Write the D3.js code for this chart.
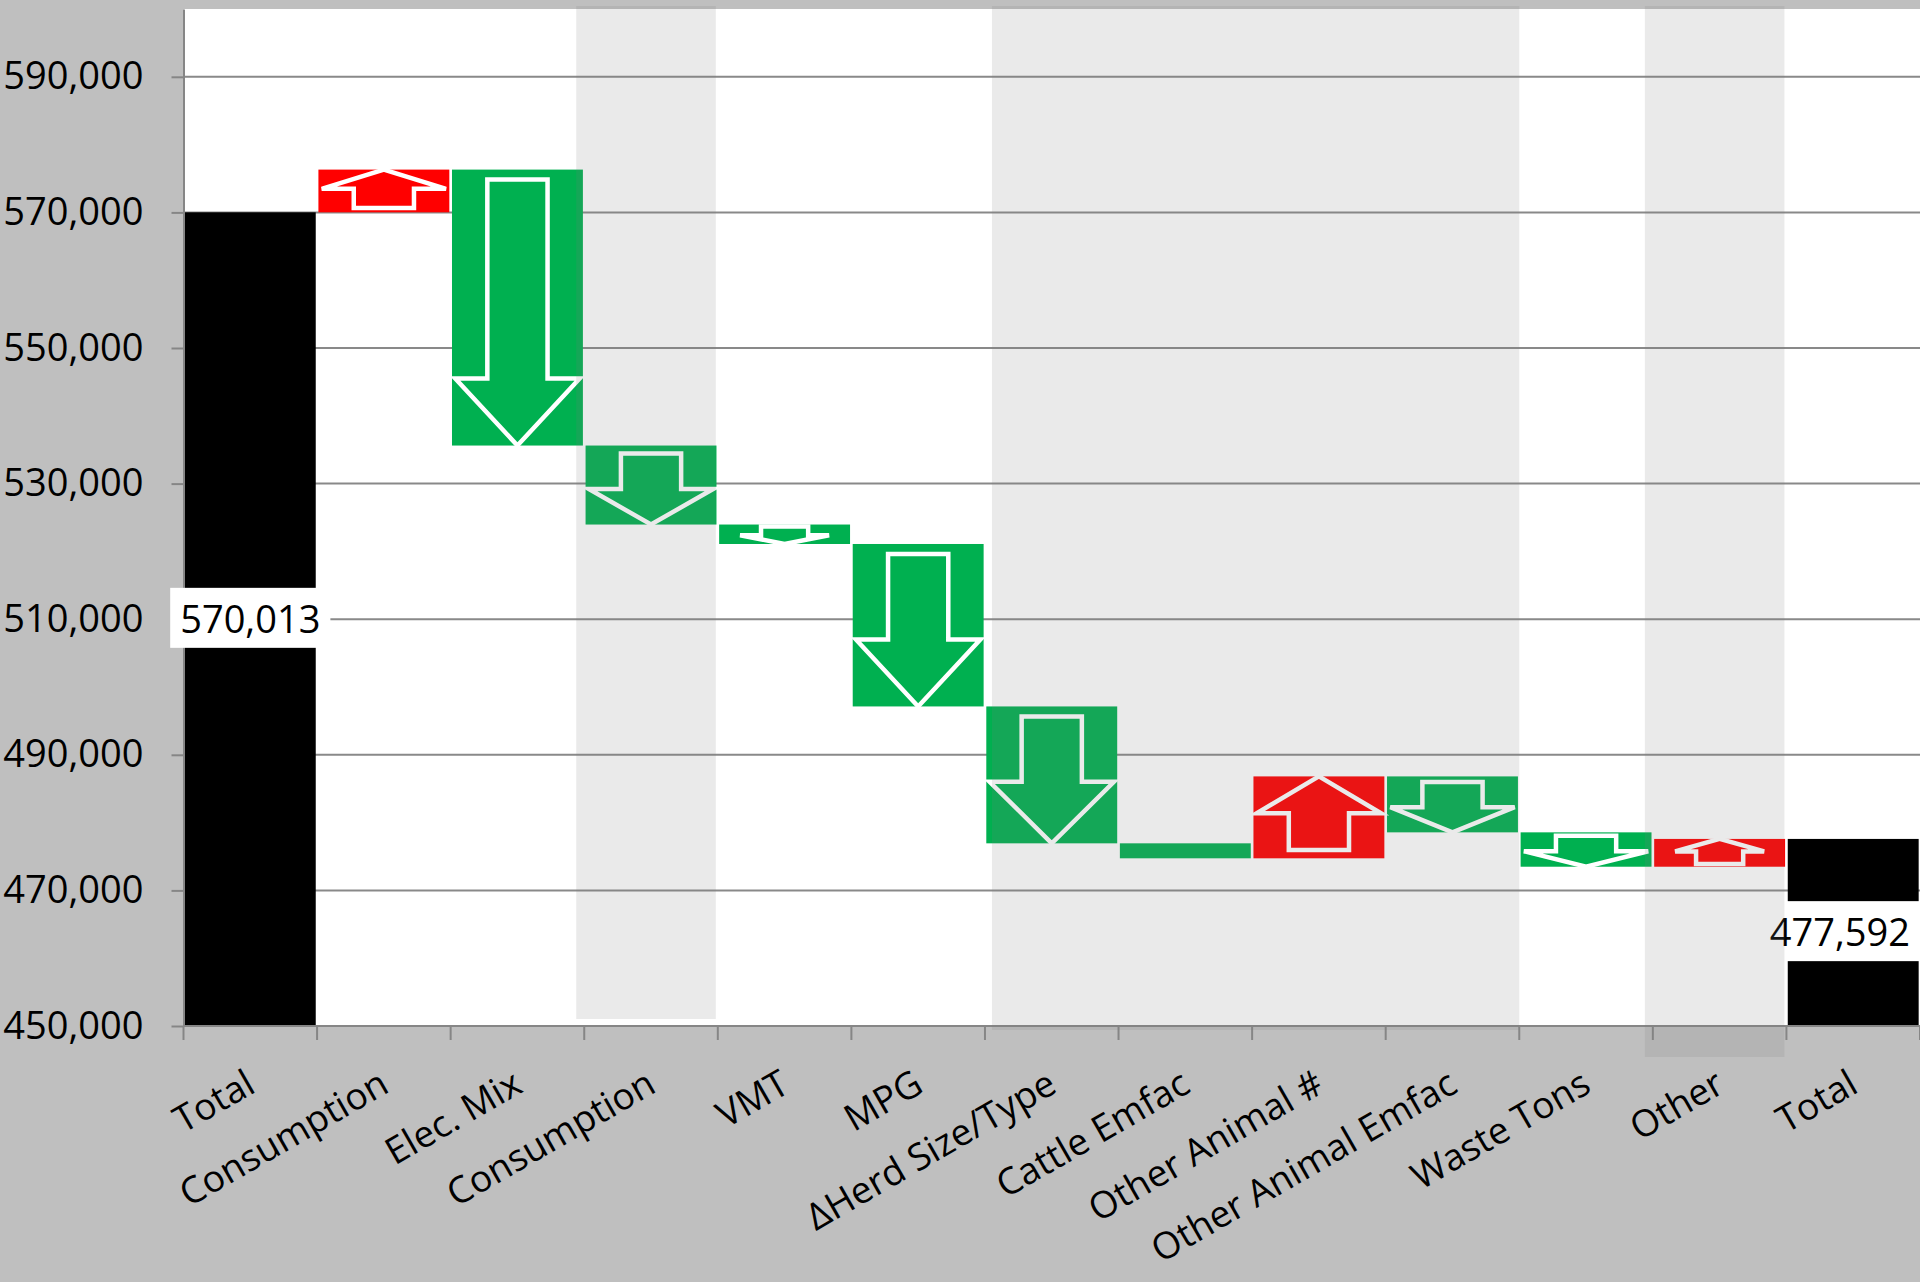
<!DOCTYPE html>
<html>
<head>
<meta charset="utf-8">
<script src="https://cdn.jsdelivr.net/npm/d3@7"></script>
<style>
  html, body { margin: 0; padding: 0; background: #bfbfbf; }
  svg { display: block; }
  text { font-family: "Open Sans", "Noto Sans", sans-serif; }
</style>
</head>
<body>
<svg id="chart"></svg>
<script>
// Data
const categories = ["Total", "Consumption", "Elec. Mix", "Consumption", "VMT", "MPG",
  "\u0394Herd Size/Type", "Cattle Emfac", "Other Animal #", "Other Animal Emfac",
  "Waste Tons", "Other", "Total"];
const startTotal = 570013;
const changes = [6300, -40700, -11650, -2870, -23960, -20190, -2210, 12080, -8250, -5070, 4099];
const endTotal = 477592;
const yTicks = [450000, 470000, 490000, 510000, 530000, 550000, 570000, 590000];
// shaded sector groups (first and last category index)
const shadeFrom = [3, 6, 11];
const shadeTo = [3, 9, 11];

// Layout / style
const width = 1920, height = 1282;
const plotLeft = 183.5, plotTop = 9, plotBottom = 1026;
const shadeNudge = [[-8, -2, -7], [7, 0, 4], [-8, -2, 31]]; // left, right, bottom offsets
const colors = { up: "#ff0000", down: "#00b050", total: "#000000" };

const svg = d3.select("#chart").attr("width", width).attr("height", height);

// Arrange waterfall rows
let rows = [];
let running = startTotal;
rows.push({ i: 0, a: 450000, b: startTotal, type: "total", value: startTotal });
changes.forEach((c, k) => {
  rows.push({ i: k + 1, a: running, b: running + c, type: c > 0 ? "up" : "down" });
  running += c;
});
rows.push({ i: categories.length - 1, a: 450000, b: endTotal, type: "total", value: endTotal });

let x = d3.scaleBand()
  .domain(d3.range(categories.length))
  .range([plotLeft, width])
  .paddingInner(0.02)
  .paddingOuter(0.01);
let y = d3.scaleLinear().domain([450000, 600000]).range([plotBottom, plotTop]);
const edge = (i) => plotLeft + i * x.step();

// Plot background
svg.append("rect")
  .attr("x", plotLeft).attr("y", plotTop)
  .attr("width", width - plotLeft).attr("height", plotBottom - plotTop)
  .attr("fill", "#ffffff");

// Gridlines
svg.append("g")
  .selectAll("line")
  .data(yTicks)
  .enter()
  .append("line")
  .attr("x1", plotLeft).attr("x2", width)
  .attr("y1", (d) => y(d)).attr("y2", (d) => y(d))
  .attr("stroke", "#898989")
  .attr("stroke-width", 2);

// Bars
svg.append("g")
  .selectAll("rect")
  .data(rows)
  .enter()
  .append("rect")
  .attr("x", (d) => x(d.i))
  .attr("width", x.bandwidth())
  .attr("y", (d) => y(Math.max(d.a, d.b)))
  .attr("height", (d) => Math.abs(y(d.a) - y(d.b)))
  .attr("fill", (d) => colors[d.type]);

// White outline arrows inside the change bars (none on very thin bars)
const barH = (d) => Math.abs(y(d.a) - y(d.b));
function arrowPath(d) {
  const x0 = x(d.i), w = x.bandwidth();
  const yTop = y(Math.max(d.a, d.b)), yBot = y(Math.min(d.a, d.b));
  const h = yBot - yTop;
  const cx = x0 + w / 2;
  const head = Math.min(0.45 * h, 67);
  const inset = Math.min(0.1 * h, 10);
  const hw = (h < 30 ? 0.34 : 0.475) * w;
  const sw = (h < 30 ? 0.18 : 0.23) * w;
  let tip, tail, base;
  if (d.type === "up") { tip = yTop; tail = yBot - inset; base = tip + head; }
  else { tip = yBot; tail = yTop + inset; base = tip - head; }
  return `M${cx - sw},${tail}L${cx + sw},${tail}L${cx + sw},${base}L${cx + hw},${base}` +
    `L${cx},${tip}L${cx - hw},${base}L${cx - sw},${base}Z`;
}
svg.append("g")
  .selectAll("path")
  .data(rows.filter((d) => d.type !== "total" && barH(d) > 17))
  .enter()
  .append("path")
  .attr("d", arrowPath)
  .attr("fill", "none")
  .attr("stroke", "#ffffff")
  .attr("stroke-width", 4.5)
  .attr("stroke-linejoin", "miter");

// Y axis
let yAxis = svg.append("g")
  .attr("transform", "translate(" + plotLeft + ",0)")
  .call(d3.axisLeft(y).tickValues(yTicks).tickSize(12).tickSizeOuter(0).tickPadding(28).tickFormat(d3.format(",")));
yAxis.select(".domain").attr("stroke", "#868686").attr("stroke-width", 2);
yAxis.selectAll(".tick line").attr("stroke", "#868686").attr("stroke-width", 2);
yAxis.selectAll(".tick text")
  .attr("fill", "#000")
  .style("font-size", "38px")
  .style("font-family", "'Open Sans', 'Noto Sans', sans-serif");

// X axis: line, boundary ticks, rotated labels
svg.append("line")
  .attr("x1", plotLeft).attr("x2", width)
  .attr("y1", plotBottom).attr("y2", plotBottom)
  .attr("stroke", "#868686").attr("stroke-width", 2);
svg.append("g")
  .selectAll("line")
  .data(d3.range(categories.length + 1))
  .enter()
  .append("line")
  .attr("x1", (i) => edge(i)).attr("x2", (i) => edge(i))
  .attr("y1", plotBottom).attr("y2", plotBottom + 14)
  .attr("stroke", "#868686").attr("stroke-width", 2);
svg.append("g")
  .selectAll("text")
  .data(categories)
  .enter()
  .append("text")
  .attr("text-anchor", "end")
  .attr("transform", (d, i) => "translate(" + (x(i) + x.bandwidth() / 2 + 7) + "," + (plotBottom + 65) + ") rotate(-30)")
  .attr("font-size", 37)
  .attr("fill", "#000")
  .text((d) => d);

// Total value labels in white boxes
let labels = svg.append("g")
  .selectAll("g")
  .data(rows.filter((d) => d.type === "total"))
  .enter()
  .append("g");
labels.append("rect").attr("fill", "#ffffff");
labels.append("text")
  .attr("text-anchor", "middle")
  .attr("font-size", 38)
  .attr("fill", "#000")
  .attr("x", (d) => x(d.i) + x.bandwidth() / 2)
  .attr("y", (d) => (y(d.a) + y(d.b)) / 2)
  .attr("dy", "0.36em")
  .text((d) => d3.format(",")(d.value));
labels.each(function () {
  const g = d3.select(this);
  const t = g.select("text");
  let bb = t.node().getBBox();
  const padX = 10, padY = 4;
  let over = bb.x + bb.width + padX - width;
  if (over > 0) {
    t.attr("x", +t.attr("x") - over);
    bb = t.node().getBBox();
  }
  g.select("rect")
    .attr("x", bb.x - padX).attr("y", bb.y - padY)
    .attr("width", bb.width + 2 * padX).attr("height", bb.height + 2 * padY);
});

// Semi-transparent sector shading on top
svg.append("g")
  .selectAll("rect")
  .data(shadeFrom)
  .enter()
  .append("rect")
  .attr("x", (d, k) => edge(d) + shadeNudge[k][0])
  .attr("width", (d, k) => edge(shadeTo[k] + 1) + shadeNudge[k][1] - edge(d) - shadeNudge[k][0])
  .attr("y", plotTop - 3)
  .attr("height", (d, k) => plotBottom + shadeNudge[k][2] - plotTop + 3)
  .attr("fill", "rgb(126,126,126)")
  .attr("fill-opacity", 0.16);
</script>
</body>
</html>
